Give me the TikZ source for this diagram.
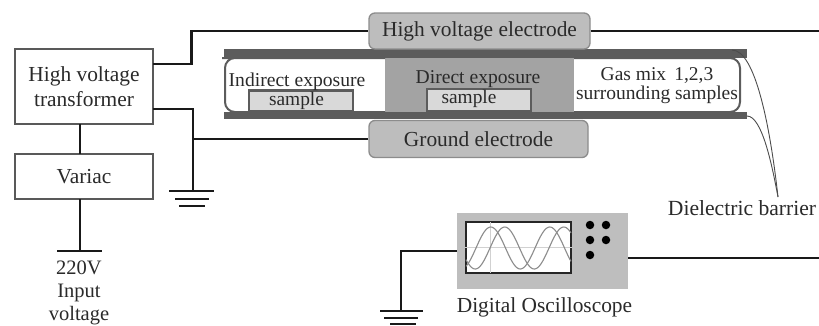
\documentclass[tikz,border=0pt]{standalone}
\usepackage{fontspec}
\setmainfont{Liberation Serif}
\definecolor{ink}{HTML}{2A2A2A}
\definecolor{plate}{HTML}{5C5C5C}
\definecolor{elec}{HTML}{BDBDBD}
\definecolor{direct}{HTML}{A3A3A3}
\definecolor{scope}{HTML}{BEBEBE}
\definecolor{samp}{HTML}{D9D9D9}
\tikzset{
  wire/.style={line width=2.4pt,black!90},
  thin wire/.style={line width=0.9pt,black!70},
  boxnode/.style={draw=black!65,line width=2.4pt,fill=white,inner sep=0pt,text=ink,align=center,font=\fontsize{21.4}{25}\selectfont},
  electrode/.style={draw=black!45,line width=1.3pt,fill=elec,rounded corners=6pt,inner sep=0pt,text=ink,font=\fontsize{21.4}{25}\selectfont},
  plate bar/.style={fill=plate,draw=none,inner sep=0pt},
  samplebox/.style={draw=plate,line width=2.6pt,fill=samp,inner sep=0pt,text=ink,font=\fontsize{19.4}{22}\selectfont},
  label20/.style={text=ink,inner sep=0pt,align=center,font=\fontsize{19.6}{22}\selectfont},
  label21/.style={text=ink,inner sep=0pt,align=center,font=\fontsize{21.4}{25}\selectfont},
  knob/.style={circle,fill=black,minimum size=8.5pt,inner sep=0pt},
}
\begin{document}
\begin{tikzpicture}[x=1pt,y=-1pt]
\useasboundingbox (0,0) rectangle (819,325);
% chamber
\fill[direct] (385,57) rectangle (574,113);
\draw[plate,line width=2pt,rounded corners=10pt] (385,58) -- (232,58) -- (225,58) -- (225,112) -- (385,112);
\draw[plate,line width=2pt,rounded corners=10pt] (574,58) -- (740,58) -- (740,112) -- (574,112);
\node[plate bar,minimum width=523pt,minimum height=9pt] (topplate) at (485.5,53.5) {};
\node[plate bar,minimum width=523pt,minimum height=7pt] (botplate) at (485.5,115.5) {};
\node[samplebox,minimum width=104pt,minimum height=21pt] (sampA) at (301,101) {};
\node[samplebox,minimum width=104pt,minimum height=22pt] (sampB) at (479,100) {};
\node[text=ink,inner sep=0pt,font=\fontsize{19.4}{22}\selectfont] at (296.5,100.6) {sample};
\node[text=ink,inner sep=0pt,font=\fontsize{19.4}{22}\selectfont] at (469,98.6) {sample};
\node[label20] (indirect) at (297,81.5) {Indirect exposure};
\node[label20] (directl) at (478,79.5) {Direct exposure};
\node[label20,font=\fontsize{19.5}{18.5}\selectfont] (gas) at (657,85.5) {Gas mix\, 1,2,3\\surrounding samples};
% electrodes
\node[electrode,minimum width=221pt,minimum height=36pt] (hv) at (479.5,31) {High voltage electrode};
\node[electrode,minimum width=219pt,minimum height=37pt] (gnd) at (478.5,139) {Ground electrode};
% left boxes
\node[boxnode,minimum width=138pt,minimum height=75pt] (xfmr) at (84,86.5) {High voltage\\transformer};
\node[boxnode,minimum width=138pt,minimum height=45pt] (variac) at (84,176.5) {Variac};
\node[label21,font=\fontsize{20.5}{23}\selectfont] (input) at (79,292.8) {220V\\Input\\voltage};
% wires
\coordinate (xhi) at (153,64);
\coordinate (xlo) at (153,109);
\coordinate (gnd1) at (193,191);
\coordinate (gnd2) at (401,311);
\coordinate (inbar) at (80,251);
\coordinate (farhv) at (819,31);
\coordinate (farsc) at (819,258);
\draw[wire] (xhi) -- (191.5,64) |- (hv.west);
\draw[wire] (xlo) -| (gnd1);
\draw[wire] (193,139) -- (gnd.west);
\draw[wire] (hv.east) -- (farhv);
\draw[wire] (80,124) -- (80,154);
\draw[wire] (80,199) -- (inbar);
\draw[wire] ([xshift=-23pt]inbar) -- ([xshift=22pt]inbar);
\draw[wire] ([xshift=-24pt]gnd1) -- ([xshift=21pt]gnd1);
\draw[wire] ([xshift=-18pt,yshift=-8pt]gnd1) -- ([xshift=16pt,yshift=-8pt]gnd1);
\draw[wire] ([xshift=-14pt,yshift=-15pt]gnd1) -- ([xshift=12pt,yshift=-15pt]gnd1);
% oscilloscope
\node[fill=scope,minimum width=171pt,minimum height=76pt,inner sep=0pt] (osc) at (542.5,251) {};
\node[draw=black!85,line width=1.4pt,fill=white,minimum width=105pt,minimum height=51pt,inner sep=0pt] (screen) at (518.5,247.5) {};
\draw[black!18,line width=1pt] (screen.west) -- (screen.east);
\draw[black!18,line width=1pt] (490,222) -- (490,273);
\draw[black!45,line width=1.1pt,domain=466:571,samples=90,smooth] plot (\x,{248-21*sin((\x-476)*6.1)});
\draw[black!45,line width=1.1pt,domain=466:571,samples=90,smooth] plot (\x,{248-21*sin((\x-490)*6.1)});
\foreach \n/\px/\py in {a/590/225,b/606/225,c/590/240,d/606/240,e/590/255}
  \node[knob] (knob\n) at (\px,\py) {};
\node[label21] (osclabel) at (544.5,307) {Digital Oscilloscope};
\draw[wire] (osc.west) -- (401,251) -- (gnd2);
\draw[wire] (628,258) -- (farsc);
\draw[wire] ([xshift=-21pt]gnd2) -- ([xshift=22pt]gnd2);
\draw[wire] ([xshift=-17pt,yshift=-7pt]gnd2) -- ([xshift=17pt,yshift=-7pt]gnd2);
\draw[wire] ([xshift=-11pt,yshift=-13pt]gnd2) -- ([xshift=15pt,yshift=-13pt]gnd2);
% dielectric barrier
\node[label21,font=\fontsize{21.6}{25}\selectfont] (diel) at (742,208) {Dielectric barrier};
\coordinate (dtip) at (778,197);
\draw[thin wire] (732,50) .. controls (755,50) and (770,125) .. (dtip);
\draw[thin wire] (747,116) .. controls (762,116) and (772,165) .. (dtip);
\end{tikzpicture}
\end{document}
